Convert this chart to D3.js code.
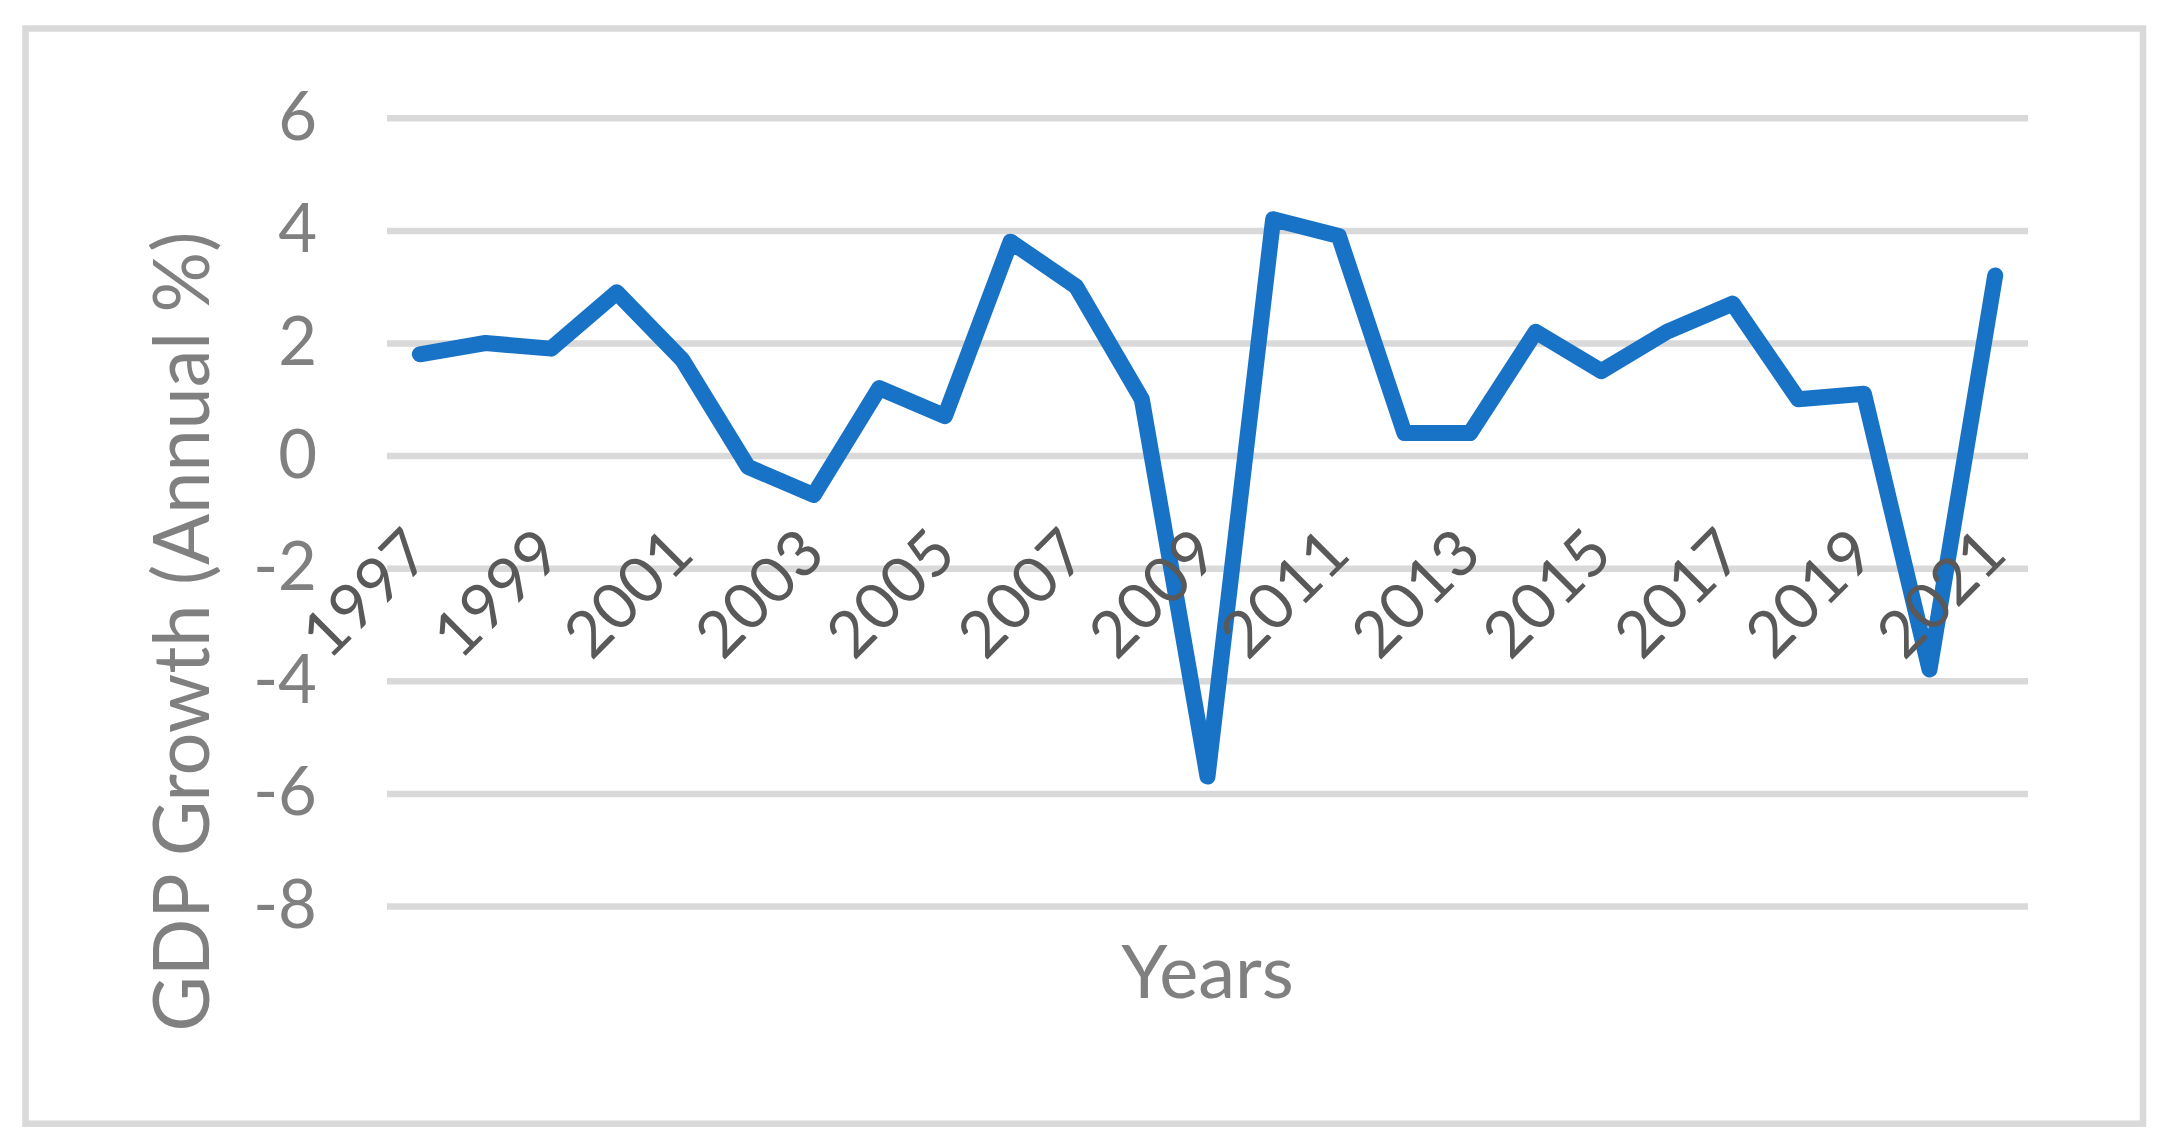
<!DOCTYPE html>
<html>
<head>
<meta charset="utf-8">
<script src="https://d3js.org/d3.v7.min.js"></script>
<style>
  body { margin: 0; background: #ffffff; }
  svg { display: block; font-family: Lato, "Open Sans", sans-serif; }
</style>
</head>
<body>
<svg id="chart"></svg>
<script>

// GDP growth, annual %
var years = [1997, 1998, 1999, 2000, 2001, 2002, 2003, 2004, 2005, 2006, 2007, 2008, 2009,
             2010, 2011, 2012, 2013, 2014, 2015, 2016, 2017, 2018, 2019, 2020, 2021];
var growth = [1.8, 2.0, 1.9, 2.9, 1.7, -0.2, -0.7, 1.2, 0.7, 3.8, 3.0, 1.0, -5.7,
              4.2, 3.9, 0.4, 0.4, 2.2, 1.5, 2.2, 2.7, 1.0, 1.1, -3.8, 3.2];
var yTicks = [-8, -6, -4, -2, 0, 2, 4, 6];
var xTickLabels = [1997, 1999, 2001, 2003, 2005, 2007, 2009, 2011, 2013, 2015, 2017, 2019, 2021];

var width = 2169, height = 1148;
// plot area (note: "top" is a reserved window property, so use other names)
var plotLeft = 387, plotRight = 2028, plotTop = 117.8, plotBottom = 906;

var svg = d3.select("#chart").attr("width", width).attr("height", height);

// outer chart border
svg.append("rect")
    .attr("x", 25.5).attr("y", 28.5)
    .attr("width", 2143 - 25.5).attr("height", 1123.7 - 28.5)
    .attr("fill", "none")
    .attr("stroke", "#d9d9d9")
    .attr("stroke-width", 6.5);

var x = d3.scaleBand().domain(years).range([plotLeft, plotRight]);
var y = d3.scaleLinear().domain([-8, 6]).range([plotBottom, plotTop]);

// y axis + gridlines
var yAxis = svg.append("g")
    .attr("transform", "translate(" + plotLeft + ",0)")
    .call(d3.axisLeft(y)
        .tickValues(yTicks)
        .tickSize(-(plotRight - plotLeft))
        .tickPadding(70)
        .tickFormat(function(d) { return String(d); }))
    .attr("font-family", "Lato, sans-serif");
yAxis.select(".domain").remove();
yAxis.selectAll(".tick line")
    .attr("stroke", "#d9d9d9")
    .attr("stroke-width", 6.5);
yAxis.selectAll(".tick text")
    .attr("fill", "#808080")
    .style("font-size", "67px");

// the series
var line = d3.line()
    .x(function(d, i) { return x(years[i]) + x.bandwidth() / 2; })
    .y(function(d) { return y(d); });

svg.append("path")
    .datum(growth)
    .attr("d", line)
    .attr("fill", "none")
    .attr("stroke", "#1872c6")
    .attr("stroke-width", 16)
    .attr("stroke-linejoin", "round")
    .attr("stroke-linecap", "round");

// x axis labels (drawn over the line, like the original)
var xAxis = svg.append("g")
    .attr("transform", "translate(0," + y(0) + ")")
    .call(d3.axisBottom(x)
        .tickValues(xTickLabels)
        .tickSize(0))
    .attr("font-family", "Lato, sans-serif");
xAxis.select(".domain").remove();
xAxis.selectAll(".tick text")
    .attr("x", 0).attr("y", 0).attr("dy", null)
    .attr("text-anchor", "end")
    .attr("transform", "translate(14,101) rotate(-45)")
    .attr("fill", "#595959")
    .style("font-size", "64px");

// axis titles
svg.append("text")
    .attr("x", (plotLeft + plotRight) / 2)
    .attr("y", 998)
    .attr("text-anchor", "middle")
    .attr("fill", "#808080")
    .style("font-size", "74px")
    .text("Years");

svg.append("text")
    .attr("transform", "translate(209,631.6) rotate(-90)")
    .attr("text-anchor", "middle")
    .attr("fill", "#808080")
    .attr("textLength", 800)
    .attr("lengthAdjust", "spacingAndGlyphs")
    .style("font-size", "77px")
    .text("GDP Growth (Annual %)");

</script>
</body>
</html>
